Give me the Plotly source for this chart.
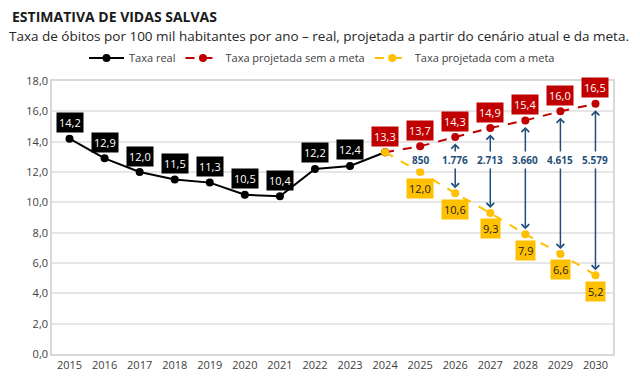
import plotly.graph_objects as go

years = list(range(2015, 2031))
real_years = list(range(2015, 2025))
real_vals = [14.2, 12.9, 12.0, 11.5, 11.3, 10.5, 10.4, 12.2, 12.4, 13.3]
proj_years = list(range(2024, 2031))
sem_meta = [13.3, 13.7, 14.3, 14.9, 15.4, 16.0, 16.5]
com_meta = [13.3, 12.0, 10.6, 9.3, 7.9, 6.6, 5.2]
vidas_years = list(range(2025, 2031))
vidas = ["850", "1.776", "2.713", "3.660", "4.615", "5.579"]
y_ticks = [0, 2, 4, 6, 8, 10, 12, 14, 16, 18]

BLACK = "#000000"
RED = "#C00000"
YELLOW = "#FFC000"
BLUE = "#1F4E79"
FONT = "Open Sans"

# page offset of the default html body margin
OFF = 8
W, H = 640, 382
L, R, T, B = 52 - OFF, 27 + OFF, 81 - OFF, 28 + OFF
PW, PH = W - L - R, H - T - B

def fmt(v):
    return f"{v:.1f}".replace(".", ",")

def px2paper(px, py):
    # px, py are page pixel positions as in the reference
    return (px - OFF - L) / PW, (H - B - (py - OFF)) / PH

fig = go.Figure()
fig.add_trace(go.Scatter(x=real_years, y=real_vals, mode="lines+markers", name="Taxa real",
                         line=dict(color=BLACK, width=2), marker=dict(color=BLACK, size=8)))
fig.add_trace(go.Scatter(x=proj_years, y=sem_meta, mode="lines+markers", name="Taxa projetada sem a meta",
                         line=dict(color=RED, width=2, dash="dash"), marker=dict(color=RED, size=8)))
fig.add_trace(go.Scatter(x=proj_years, y=com_meta, mode="lines+markers", name="Taxa projetada com a meta",
                         line=dict(color=YELLOW, width=2, dash="dash"), marker=dict(color=YELLOW, size=8)))

ann = []
for x, v in zip(real_years[:-1], real_vals[:-1]):
    ann.append(dict(x=x, y=v, text=fmt(v), showarrow=False, yshift=16, bgcolor=BLACK,
                    font=dict(color="white", size=11, family=FONT), borderpad=2))
for x, v in zip(proj_years, sem_meta):
    ann.append(dict(x=x, y=v, text=fmt(v), showarrow=False, yshift=16, bgcolor=RED,
                    font=dict(color="white", size=11, family=FONT), borderpad=2))
for x, v in zip(proj_years[1:], com_meta[1:]):
    ann.append(dict(x=x, y=v, text=fmt(v), showarrow=False, yshift=-16, bgcolor=YELLOW,
                    font=dict(color="#222222", size=11, family=FONT), borderpad=2))
for x, s, c in zip(vidas_years, sem_meta[1:], com_meta[1:]):
    ann.append(dict(x=x, y=c, ax=x, ay=s, axref="x", ayref="y", xref="x", yref="y", text="",
                    showarrow=True, arrowside="end+start", arrowhead=4, startarrowhead=4,
                    arrowsize=1, startarrowsize=1, arrowwidth=1.5, arrowcolor=BLUE,
                    standoff=5, startstandoff=5))
for x, t in zip(vidas_years, vidas):
    ann.append(dict(x=x, y=12.8, text=f"<b>{t}</b>", showarrow=False, bgcolor="white",
                    font=dict(color=BLUE, size=10, family=FONT), borderpad=1))

tx, ty = px2paper(11, 17)
ann.append(dict(x=tx, y=ty, xref="paper", yref="paper", text="<b>ESTIMATIVA DE VIDAS SALVAS</b>",
                showarrow=False, xanchor="left", yanchor="middle", borderpad=0,
                font=dict(size=14, color="#1a1a1a", family=FONT)))
sx, sy = px2paper(8, 36)
ann.append(dict(x=sx, y=sy, xref="paper", yref="paper",
                text="Taxa de óbitos por 100 mil habitantes por ano – real, projetada a partir do cenário atual e da meta.",
                showarrow=False, xanchor="left", yanchor="middle", borderpad=0,
                font=dict(size=13.5, color="#262626", family=FONT)))

lx, _ = px2paper(322, 57)
fig.update_layout(
    width=W, height=H,
    margin=dict(l=L, r=R, t=T, b=B, autoexpand=False),
    paper_bgcolor="white", plot_bgcolor="white",
    font=dict(family=FONT, color="#404040", size=11),
    showlegend=True,
    legend=dict(orientation="h", x=lx, xanchor="center", y=1 - (58 - OFF) / H, yanchor="middle",
                yref="container", font=dict(size=11, color="#404040"), itemwidth=35),
    xaxis=dict(range=[2014.5, 2030.5], tickmode="array", tickvals=years,
               ticktext=[str(y) for y in years], showgrid=False, showline=True,
               linecolor="#d9d9d9", linewidth=1.5, mirror=True, ticks="", zeroline=False,
               tickfont=dict(size=11, color="#404040")),
    yaxis=dict(range=[0, 18], tickmode="array", tickvals=y_ticks,
               ticktext=[fmt(v) for v in y_ticks], showgrid=True, gridcolor="#e6e6e6",
               gridwidth=1.5, showline=True, linecolor="#d9d9d9", linewidth=1.5, mirror=True,
               zeroline=False, ticks="", tickfont=dict(size=11, color="#404040")),
    annotations=ann,
)

fig.write_html("out.html")
